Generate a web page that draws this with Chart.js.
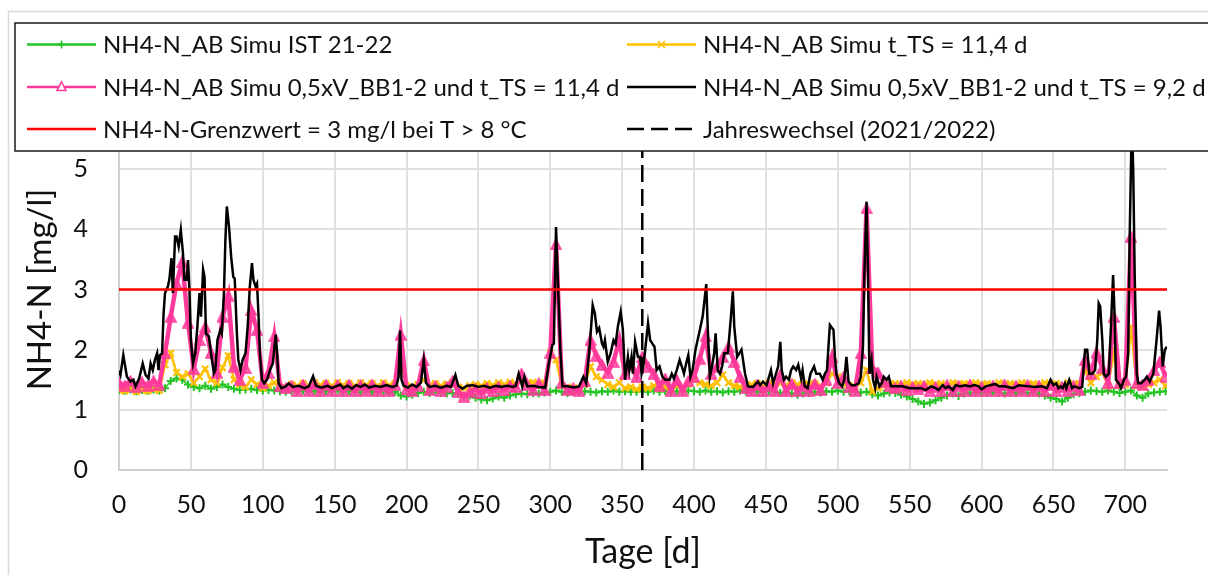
<!DOCTYPE html>
<html>
<head>
<meta charset="utf-8">
<script src="https://cdn.jsdelivr.net/npm/chart.js@4.4.1/dist/chart.umd.min.js"></script>
<style>
  body { margin: 0; background: #fff; }
</style>
</head>
<body>
<canvas id="chart" width="1208" height="575"></canvas>
<script>
// sample days (every 4th day) for the three marker series
const gridDays = [];
for (let d = 0; d <= 728; d += 4) gridDays.push(d);

const istValues = [
  1.33,1.32,1.34,1.31,1.33,1.32,1.34,1.32,1.36,1.48,
  1.52,1.50,1.42,1.38,1.36,1.40,1.35,1.38,1.42,1.38,
  1.35,1.33,1.34,1.35,1.33,1.32,1.33,1.32,1.31,1.30,
  1.31,1.30,1.32,1.30,1.31,1.29,1.31,1.30,1.32,1.29,
  1.31,1.30,1.29,1.31,1.30,1.29,1.31,1.28,1.30,1.24,
  1.22,1.25,1.28,1.30,1.28,1.30,1.28,1.27,1.28,1.26,
  1.22,1.24,1.20,1.17,1.16,1.19,1.22,1.20,1.24,1.26,
  1.27,1.26,1.28,1.27,1.29,1.30,1.32,1.30,1.28,1.30,
  1.29,1.31,1.30,1.29,1.31,1.30,1.32,1.30,1.31,1.30,
  1.30,1.31,1.30,1.32,1.30,1.31,1.29,1.31,1.30,1.32,
  1.31,1.30,1.32,1.30,1.31,1.29,1.31,1.30,1.32,1.30,
  1.31,1.30,1.29,1.31,1.30,1.28,1.30,1.27,1.25,1.27,
  1.28,1.30,1.29,1.31,1.30,1.32,1.30,1.31,1.30,1.29,
  1.30,1.26,1.24,1.27,1.29,1.28,1.25,1.22,1.18,1.14,
  1.10,1.12,1.16,1.20,1.24,1.27,1.23,1.27,1.29,1.28,
  1.29,1.28,1.30,1.28,1.27,1.29,1.28,1.30,1.28,1.29,
  1.27,1.24,1.20,1.18,1.14,1.20,1.26,1.28,1.30,1.32,
  1.31,1.30,1.32,1.30,1.28,1.30,1.32,1.24,1.20,1.27,
  1.29,1.30,1.31
];

const ts114Values = [
  1.33,1.31,1.34,1.30,1.33,1.31,1.34,1.32,1.75,1.94,
  1.62,1.55,1.60,1.45,1.55,1.68,1.50,1.45,1.70,1.90,
  1.50,1.42,1.38,1.50,1.42,1.36,1.40,1.45,1.38,1.36,
  1.42,1.40,1.44,1.40,1.45,1.41,1.44,1.40,1.45,1.41,
  1.44,1.40,1.45,1.41,1.44,1.40,1.45,1.41,1.44,1.86,
  1.40,1.38,1.42,1.50,1.40,1.44,1.40,1.43,1.45,1.38,
  1.36,1.40,1.42,1.40,1.44,1.41,1.45,1.42,1.46,1.43,
  1.50,1.44,1.46,1.42,1.45,1.94,1.83,1.40,1.38,1.36,
  1.36,1.42,1.72,1.55,1.50,1.42,1.38,1.45,1.36,1.38,
  1.34,1.38,1.36,1.40,1.35,1.38,1.36,1.40,1.36,1.42,
  1.50,1.45,1.42,1.40,1.45,1.58,1.45,1.40,1.38,1.40,
  1.42,1.44,1.40,1.45,1.42,1.44,1.41,1.45,1.42,1.44,
  1.42,1.44,1.40,1.45,1.60,1.55,1.42,1.40,1.38,1.45,
  1.66,1.30,1.36,1.40,1.42,1.44,1.41,1.45,1.42,1.44,
  1.41,1.45,1.42,1.44,1.40,1.45,1.42,1.44,1.41,1.45,
  1.42,1.44,1.40,1.45,1.42,1.44,1.41,1.45,1.42,1.44,
  1.41,1.45,1.42,1.44,1.40,1.45,1.42,1.44,1.66,1.45,
  1.55,1.62,1.40,1.94,1.40,1.42,2.38,1.40,1.38,1.42,
  1.45,1.50,1.40
];

const halfVts114Values = [
  1.45,1.40,1.48,1.38,1.46,1.40,1.48,1.42,1.94,2.55,
  3.10,3.46,2.45,1.68,2.16,2.38,1.95,1.62,2.55,2.90,
  1.72,1.50,1.70,2.66,2.33,1.45,1.62,2.22,1.40,1.36,
  1.40,1.31,1.42,1.32,1.43,1.31,1.42,1.32,1.41,1.31,
  1.42,1.31,1.41,1.32,1.42,1.31,1.40,1.32,1.42,2.25,
  1.34,1.31,1.40,1.82,1.33,1.40,1.31,1.38,1.48,1.30,
  1.22,1.30,1.34,1.28,1.36,1.31,1.38,1.33,1.40,1.38,
  1.60,1.42,1.33,1.44,1.33,1.95,3.75,1.45,1.33,1.36,
  1.32,1.48,2.16,1.90,1.75,1.62,1.80,2.16,1.60,1.75,
  1.55,1.88,1.72,1.60,1.40,1.52,1.32,1.50,1.32,1.48,
  1.55,1.85,2.22,1.60,1.72,1.88,2.05,1.80,1.55,1.36,
  1.32,1.42,1.31,1.40,1.32,1.58,1.31,1.43,1.31,1.40,
  1.32,1.43,1.33,1.50,1.88,1.45,1.55,1.38,1.32,1.94,
  4.35,1.70,1.62,1.46,1.40,1.36,1.40,1.33,1.38,1.34,
  1.40,1.31,1.38,1.31,1.41,1.31,1.40,1.32,1.42,1.31,
  1.38,1.31,1.40,1.31,1.42,1.31,1.40,1.32,1.41,1.31,
  1.40,1.31,1.41,1.31,1.38,1.32,1.40,1.33,1.83,1.60,
  1.95,1.70,1.45,2.55,1.45,1.50,3.88,1.45,1.42,1.50,
  1.66,1.80,1.55
];

// black line, read at its turning points
const halfV92Days = [
  0,1,3,5.5,8,10,11.5,14,16.5,18.5,20.5,22,23.5,25,26.5,27.5,28.5,30,31,32,
  34,35,36.5,37.5,39,40,41.5,43,44.5,45.5,47,48,49,50,51.5,53,54.5,56,57,58.5,
  59.5,60.5,62.5,64,66,67,68.5,70.5,71.5,73,74,75,76.5,78,79.5,80.5,82,83,84.5,86,
  88,89.5,91,92.5,93.5,95,96,97,98,99.5,101,103,105,107,109,110,111,113,116,118,
  121,125,129,132,135,137,141,145,148,151,154,156,159,162,165,168,171,174,178,182,
  186,190,193,194.5,195.5,196.5,198,201,204,207,210,212,213.5,216,220,224,228,231,234,236,
  239,242,246,250,254,258,262,266,270,274,276,278,280.5,282,284,288,292,296.5,299,301.5,
  302.5,304,305.5,307,308.5,312,316.5,320,323,325,327.5,329.5,331,332.5,334,336,337,338,340,342,
  344,345.5,347,349,350.5,352,354,355,356.5,357.5,359,361,362.5,363.5,365,368,369.5,371,372.5,374,
  376,378,380,383,384.5,386,388,390,391.5,393,394.5,396,397.5,399,401,403.5,406,408.5,409.5,411,
  412.5,414,415,416.5,418,419.5,421,423.5,425.5,427,428,430,431.5,433,435.5,437.5,441,444.5,446,448,
  450.5,453.5,455,457,458.5,460,461,462.5,464,466,467.5,469,471,472.5,474.5,475.5,477,479,481,483.5,
  485,487.5,489.5,491,492.5,493.5,494.5,496,497,498,499,501,503,504.5,506,507.5,509.5,512,514.5,516,
  517.5,518.5,520,521,522,523.5,524.5,526,527,529,530.5,532,534,535.5,537,540,545,550,554,558,
  561,565,568,570,573,575,577,580,582,585,588.5,592,595,598,600,603,606,609.5,612,616,
  622,626,633,637,642,645.5,648,650,652,653.5,655,656.5,658,659,661,663,664.5,668,670,672,
  673.5,675,677,679,680.5,681.5,682.5,684,685,686.5,688.5,690,691.5,692.5,693.5,695.5,697,699,700.5,702,
  703,704.5,705.5,706.5,708,709,711,713.5,715,717,719.5,721.5,723.5,724.5,726,727.5,729
];
const halfV92Values = [
  1.65,1.58,1.91,1.55,1.47,1.50,1.39,1.52,1.77,1.58,1.52,1.77,1.66,1.83,1.94,1.66,1.91,1.94,2.60,2.94,
  3.05,3.16,3.52,2.94,3.88,3.88,3.71,3.99,3.60,3.16,3.16,3.49,2.99,2.16,1.77,1.94,2.38,2.94,2.55,3.33,
  3.21,2.27,2.22,1.94,1.61,1.66,2.16,2.33,2.27,2.94,3.82,4.38,4.05,3.55,3.21,3.18,2.27,1.83,1.66,1.83,
  1.94,2.38,3.05,3.44,3.16,3.05,3.10,2.60,1.94,1.50,1.44,1.50,1.66,1.77,2.25,1.94,1.44,1.36,1.39,1.44,
  1.38,1.40,1.36,1.39,1.56,1.40,1.37,1.40,1.36,1.39,1.42,1.36,1.40,1.35,1.41,1.38,1.42,1.37,1.40,1.38,
  1.41,1.38,1.40,1.55,2.32,1.50,1.40,1.37,1.42,1.38,1.45,1.83,1.45,1.38,1.40,1.37,1.40,1.38,1.58,1.40,
  1.35,1.40,1.41,1.38,1.40,1.37,1.40,1.38,1.40,1.38,1.40,1.60,1.39,1.55,1.39,1.40,1.38,1.37,1.77,2.08,
  2.10,4.04,2.99,2.00,1.39,1.39,1.37,1.39,1.55,1.44,2.08,2.74,2.60,2.30,2.36,2.10,2.05,2.16,1.80,1.94,
  2.16,2.10,2.38,2.63,2.33,1.50,1.88,1.66,1.88,1.60,2.13,1.88,1.88,1.60,1.77,2.44,2.16,2.10,2.05,1.66,
  1.72,1.55,1.50,1.50,1.60,1.52,1.66,1.83,1.72,1.60,1.77,1.91,1.55,1.66,2.00,2.27,2.55,3.09,2.38,1.55,
  1.72,1.94,2.27,1.66,1.60,1.72,1.94,1.94,2.50,2.97,2.38,1.88,1.94,2.00,1.60,1.39,1.38,1.47,1.41,1.47,
  1.41,1.66,1.44,1.60,1.72,2.13,1.66,1.50,1.55,1.50,1.66,1.72,1.66,1.75,1.52,1.66,1.39,1.36,1.60,1.72,
  1.60,1.60,1.50,1.60,1.66,2.05,2.41,2.36,2.33,1.88,1.60,1.44,1.39,1.50,1.88,1.47,1.41,1.41,1.44,1.55,
  2.05,3.27,4.46,3.27,1.60,1.83,1.50,1.36,1.55,1.39,1.44,1.55,1.50,1.55,1.39,1.39,1.39,1.36,1.36,1.36,
  1.33,1.39,1.36,1.33,1.41,1.36,1.39,1.33,1.41,1.39,1.41,1.39,1.41,1.39,1.34,1.39,1.41,1.43,1.39,1.39,
  1.36,1.41,1.39,1.38,1.39,1.36,1.50,1.41,1.44,1.36,1.39,1.36,1.44,1.36,1.50,1.36,1.39,1.36,1.38,2.00,
  2.00,1.60,1.60,1.66,2.16,2.77,2.72,2.16,1.60,1.55,1.60,2.38,3.24,2.60,1.50,1.44,1.36,1.50,1.55,1.94,
  3.83,5.80,5.00,3.27,1.60,1.44,1.44,1.50,1.55,1.47,1.60,2.10,2.65,2.38,1.72,2.00,2.05
];

const limitDays = [0, 729];
const limitValues = [3, 3];
const yearChangeDays = [364, 364];
const yearChangeValues = [0, 6];

const seriesLabels = [
  "NH4-N_AB Simu IST 21-22",
  "NH4-N_AB Simu t_TS = 11,4 d",
  "NH4-N_AB Simu 0,5xV_BB1-2 und t_TS = 11,4 d",
  "NH4-N_AB Simu 0,5xV_BB1-2 und t_TS = 9,2 d",
  "NH4-N-Grenzwert = 3 mg/l bei T > 8 °C",
  "Jahreswechsel (2021/2022)"
];

const xTicks = [0, 50, 100, 150, 200, 250, 300, 350, 400, 450, 500, 550, 600, 650, 700];

const GREEN = "#22C322";
const GOLD = "#FFC000";
const PINK = "#FF3A9B";
const FONT = "Lato, 'Open Sans', sans-serif";
const TEXT = "#111";

function toPoints(xs, ys) {
  return xs.map((x, i) => ({ x: x, y: ys[i] }));
}

// centred triangle marker (chart.js' own triangle sits high on the point)
function triangleMarker(size) {
  const c = document.createElement("canvas");
  c.width = size;
  c.height = size;
  const g = c.getContext("2d");
  g.beginPath();
  g.moveTo(size / 2, 1);
  g.lineTo(size - 1, size - 1);
  g.lineTo(1, size - 1);
  g.closePath();
  g.fillStyle = "rgba(255,58,155,0.75)";
  g.fill();
  g.strokeStyle = PINK;
  g.lineWidth = 1.5;
  g.stroke();
  return c;
}
const pinkMarker = triangleMarker(12);

// page frame behind the chart
const framePlugin = {
  id: "frame",
  beforeDraw(chart) {
    const ctx = chart.ctx;
    ctx.save();
    ctx.fillStyle = "#fff";
    ctx.fillRect(0, 0, chart.width, chart.height);
    ctx.strokeStyle = "#d9d9d9";
    ctx.lineWidth = 1.5;
    ctx.strokeRect(8.5, 11.5, 1300, 700);
    ctx.restore();
  }
};

// boxed legend that sits over the top of the plot
const boxLegend = {
  id: "boxLegend",
  afterDraw(chart) {
    const ctx = chart.ctx;
    ctx.save();
    ctx.fillStyle = "#fff";
    ctx.fillRect(15, 23, 1210, 128);
    ctx.strokeStyle = "#1a1a1a";
    ctx.lineWidth = 1.5;
    ctx.strokeRect(15, 23, 1210, 128);

    const colX = [27, 627];
    const rowY = [44.5, 87, 129];
    ctx.font = "24px " + FONT;
    ctx.textBaseline = "middle";
    ctx.textAlign = "left";

    chart.data.datasets.forEach((ds, i) => {
      const x0 = colX[i % 2];
      const x1 = x0 + 69;
      const y = rowY[Math.floor(i / 2)];
      ctx.strokeStyle = ds.borderColor;
      ctx.lineWidth = 2.5;
      ctx.setLineDash(ds.borderDash || []);
      ctx.beginPath();
      ctx.moveTo(x0, y);
      ctx.lineTo(x1, y);
      ctx.stroke();
      ctx.setLineDash([]);

      const mx = (x0 + x1) / 2;
      ctx.lineWidth = 1.6;
      if (ds.pointStyle === "cross") {
        ctx.beginPath();
        ctx.moveTo(mx - 4, y); ctx.lineTo(mx + 4, y);
        ctx.moveTo(mx, y - 4); ctx.lineTo(mx, y + 4);
        ctx.stroke();
      } else if (ds.pointStyle === "crossRot") {
        ctx.beginPath();
        ctx.moveTo(mx - 3.5, y - 3.5); ctx.lineTo(mx + 3.5, y + 3.5);
        ctx.moveTo(mx - 3.5, y + 3.5); ctx.lineTo(mx + 3.5, y - 3.5);
        ctx.stroke();
      } else if (ds.pointStyle === pinkMarker) {
        ctx.fillStyle = "#fff";
        ctx.beginPath();
        ctx.moveTo(mx, y - 5);
        ctx.lineTo(mx + 4.5, y + 3.5);
        ctx.lineTo(mx - 4.5, y + 3.5);
        ctx.closePath();
        ctx.fill();
        ctx.stroke();
      }

      ctx.fillStyle = TEXT;
      ctx.fillText(ds.label, x1 + 7, y + 1);
    });
    ctx.restore();
  }
};

const ctx = document.getElementById("chart");
new Chart(ctx, {
  type: "line",
  data: {
    datasets: [
      {
        label: seriesLabels[0],
        data: toPoints(gridDays, istValues),
        borderColor: GREEN,
        backgroundColor: GREEN,
        borderWidth: 1.5,
        pointStyle: "cross",
        pointRadius: 4,
        pointBorderWidth: 2,
        pointBorderColor: GREEN,
        order: 4
      },
      {
        label: seriesLabels[1],
        data: toPoints(gridDays, ts114Values),
        borderColor: GOLD,
        backgroundColor: GOLD,
        borderWidth: 2.5,
        pointStyle: "crossRot",
        pointRadius: 4.5,
        pointBorderWidth: 2.2,
        pointBorderColor: GOLD,
        order: 3
      },
      {
        label: seriesLabels[2],
        data: toPoints(gridDays, halfVts114Values),
        borderColor: PINK,
        backgroundColor: PINK,
        borderWidth: 4.5,
        pointStyle: pinkMarker,
        pointRadius: 6,
        order: 2
      },
      {
        label: seriesLabels[3],
        data: toPoints(halfV92Days, halfV92Values),
        borderColor: "#000",
        borderWidth: 2.5,
        pointRadius: 0,
        order: 1
      },
      {
        label: seriesLabels[4],
        data: toPoints(limitDays, limitValues),
        borderColor: "#FF0000",
        borderWidth: 2.5,
        pointRadius: 0,
        order: 0
      },
      {
        label: seriesLabels[5],
        data: toPoints(yearChangeDays, yearChangeValues),
        borderColor: "#000",
        borderWidth: 2.5,
        borderDash: [17, 7],
        pointRadius: 0,
        order: 0
      }
    ]
  },
  options: {
    responsive: false,
    animation: false,
    layout: { padding: { left: 0, right: 41, top: 109, bottom: 0 } },
    plugins: {
      legend: { display: false },
      tooltip: { enabled: false }
    },
    elements: { line: { tension: 0 } },
    scales: {
      x: {
        type: "linear",
        min: 0,
        max: 729,
        afterBuildTicks: (axis) => {
          axis.ticks = xTicks.map((v) => ({ value: v }));
        },
        afterFit: (axis) => { axis.height = 105; },
        grid: { color: "#e0e0e0", lineWidth: 2, drawTicks: false },
        border: { color: "#d0d0d0", width: 2 },
        ticks: {
          padding: 20,
          color: TEXT,
          font: { family: FONT, size: 25 },
          maxRotation: 0
        },
        title: {
          display: true,
          text: "Tage [d]",
          color: TEXT,
          font: { family: FONT, size: 34 },
          padding: { top: 0, bottom: 3 }
        }
      },
      y: {
        min: 0,
        max: 6,
        afterFit: (axis) => { axis.width = 119; },
        grid: { color: "#e0e0e0", lineWidth: 2, drawTicks: false },
        border: { color: "#d0d0d0", width: 2 },
        ticks: {
          stepSize: 1,
          padding: 31,
          color: TEXT,
          font: { family: FONT, size: 25 }
        },
        title: {
          display: true,
          text: "NH4-N [mg/l]",
          color: TEXT,
          font: { family: FONT, size: 33 },
          padding: { top: 21, bottom: 0 }
        }
      }
    }
  },
  plugins: [framePlugin, boxLegend]
});
</script>
</body>
</html>
